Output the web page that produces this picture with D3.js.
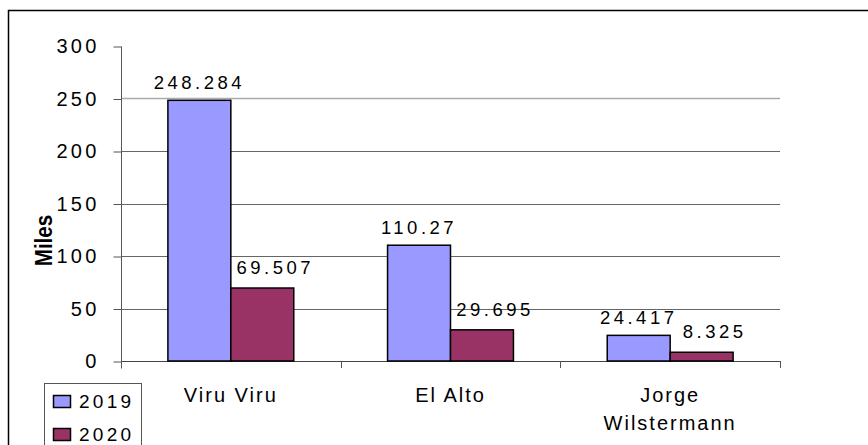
<!DOCTYPE html>
<meta charset="utf-8">
<style>
  body { margin: 0; background: #fff; }
  text { font-family: "Liberation Sans", Arial, sans-serif; fill: #000; }
  .val { font-size: 18.5px; letter-spacing: 3.5px; }
  .cat { font-size: 20px; letter-spacing: 2px; }
  .tick text { font-size: 20px; letter-spacing: 3.2px; }
  .leg { font-size: 19px; letter-spacing: 3.3px; }
</style>
<body>
<svg id="chart" width="868" height="445"></svg>
<script src="https://d3js.org/d3.v7.min.js"></script>
<script>
var categories = [["Viru Viru"], ["El Alto"], ["Jorge", "Wilstermann"]];
var seriesNames = ["2019", "2020"];
var values2019 = [248.284, 110.27, 24.417];
var values2020 = [69.507, 29.695, 8.325];
var valueLabels2019 = ["248.284", "110.27", "24.417"];
var valueLabels2020 = ["69.507", "29.695", "8.325"];
var yTicks = [0, 50, 100, 150, 200, 250, 300];
var colors = ["#9999ff", "#993366"];

var svg = d3.select("#chart");

// outer frame (runs past the right and bottom edges)
svg.append("rect")
  .attr("x", 8.5).attr("y", 10.5)
  .attr("width", 870).attr("height", 450)
  .attr("fill", "none").attr("stroke", "#000").attr("stroke-width", 1.5);

var plotLeft = 121, plotRight = 780, plotTop = 46, plotBottom = 361;

var y = d3.scaleLinear().domain([0, 300]).range([plotBottom, plotTop]);
var catKeys = categories.map(function (c) { return c.join(" "); });
var x0 = d3.scaleBand().domain(catKeys).range([plotLeft, plotRight]).padding(0);
var x1 = d3.scaleBand().domain(seriesNames).range([0, x0.bandwidth()])
  .paddingInner(0).paddingOuter(0.745);

// gridlines
svg.append("g").selectAll("line")
  .data(yTicks.filter(function (t) { return t > 0 && t < 300; }))
  .enter().append("line")
  .attr("x1", plotLeft).attr("x2", plotRight)
  .attr("y1", function (d) { return Math.round(y(d)) + 0.5; })
  .attr("y2", function (d) { return Math.round(y(d)) + 0.5; })
  .attr("stroke", function (d) { return d === 250 ? "#aaa" : "#666"; })
  .attr("stroke-width", function (d) { return d === 250 ? 1.5 : 1; });

// y axis
var yAxis = svg.append("g")
  .attr("transform", "translate(" + (plotLeft + 0.5) + ",0.5)")
  .call(d3.axisLeft(y).tickValues(yTicks).tickSize(8).tickPadding(14));
yAxis.select(".domain").attr("stroke", "#555").attr("d", "M0," + plotTop + "V" + (plotBottom + 7));
yAxis.selectAll(".tick line").attr("stroke", "#555");
yAxis.selectAll(".tick text").attr("fill", "#000").attr("font-family", null).attr("font-size", null);
yAxis.attr("font-family", null).attr("font-size", null);

// x axis line and category ticks
svg.append("line")
  .attr("x1", plotLeft).attr("x2", plotRight)
  .attr("y1", plotBottom + 0.5).attr("y2", plotBottom + 0.5)
  .attr("stroke", "#444");
svg.append("g").selectAll("line")
  .data(catKeys.concat(["end"]))
  .enter().append("line")
  .attr("x1", function (d, i) { return Math.round(i < catKeys.length ? x0(d) : plotRight) + 0.5; })
  .attr("x2", function (d, i) { return Math.round(i < catKeys.length ? x0(d) : plotRight) + 0.5; })
  .attr("y1", plotBottom).attr("y2", plotBottom + 7)
  .attr("stroke", "#555");

// bars
var rows = catKeys.map(function (k, i) {
  return [
    { cat: k, s: "2019", v: values2019[i], lbl: valueLabels2019[i], c: colors[0] },
    { cat: k, s: "2020", v: values2020[i], lbl: valueLabels2020[i], c: colors[1] }
  ];
});
var groups = svg.append("g").selectAll("g")
  .data(rows).enter().append("g")
  .attr("transform", function (d) { return "translate(" + x0(d[0].cat) + ",0)"; });

groups.selectAll("rect")
  .data(function (d) { return d; })
  .enter().append("rect")
  .attr("x", function (d) { return x1(d.s); })
  .attr("y", function (d) { return y(d.v); })
  .attr("width", x1.bandwidth())
  .attr("height", function (d) { return plotBottom - y(d.v); })
  .attr("fill", function (d) { return d.c; })
  .attr("stroke", "#000").attr("stroke-width", 1.5);

// value labels; the 2020 ones sit a little right of their bars, as in the original
groups.selectAll("text")
  .data(function (d) { return d; })
  .enter().append("text")
  .attr("class", "val")
  .attr("x", function (d) { return x1(d.s) + x1.bandwidth() / 2 + (d.s === "2020" ? 13 : 0); })
  .attr("y", function (d) { return y(d.v) - (d.s === "2020" ? 14 : 11); })
  .attr("text-anchor", "middle")
  .text(function (d) { return d.lbl; });

// category labels
svg.append("g").selectAll("text")
  .data(categories).enter().append("text")
  .attr("class", "cat")
  .attr("text-anchor", "middle")
  .attr("x", function (d, i) { return x0(catKeys[i]) + x0.bandwidth() / 2; })
  .attr("y", 402)
  .selectAll("tspan")
  .data(function (d) { return d; })
  .enter().append("tspan")
  .attr("x", function () { return this.parentNode.getAttribute("x"); })
  .attr("dy", function (d, i) { return i ? 28 : 0; })
  .text(function (d) { return d; });

// y title
svg.append("text")
  .attr("transform", "translate(52,240.5) rotate(-90) scale(0.86,1)")
  .attr("text-anchor", "middle")
  .style("font-size", "24px")
  .style("font-weight", "bold")
  .text("Miles");

// legend
var legend = svg.append("g");
legend.append("rect")
  .attr("x", 44.5).attr("y", 383.5).attr("width", 97).attr("height", 70)
  .attr("fill", "#fff").attr("stroke", "#555");
var li = legend.selectAll("g").data(seriesNames).enter().append("g")
  .attr("transform", function (d, i) { return "translate(0," + (i * 33) + ")"; });
li.append("rect")
  .attr("x", 53.5).attr("y", 395.5).attr("width", 17).attr("height", 12)
  .attr("fill", function (d, i) { return colors[i]; })
  .attr("stroke", "#000").attr("stroke-width", 1.5);
li.append("text")
  .attr("class", "leg")
  .attr("x", 79).attr("y", 408)
  .text(function (d) { return d; });
</script>
</body>
